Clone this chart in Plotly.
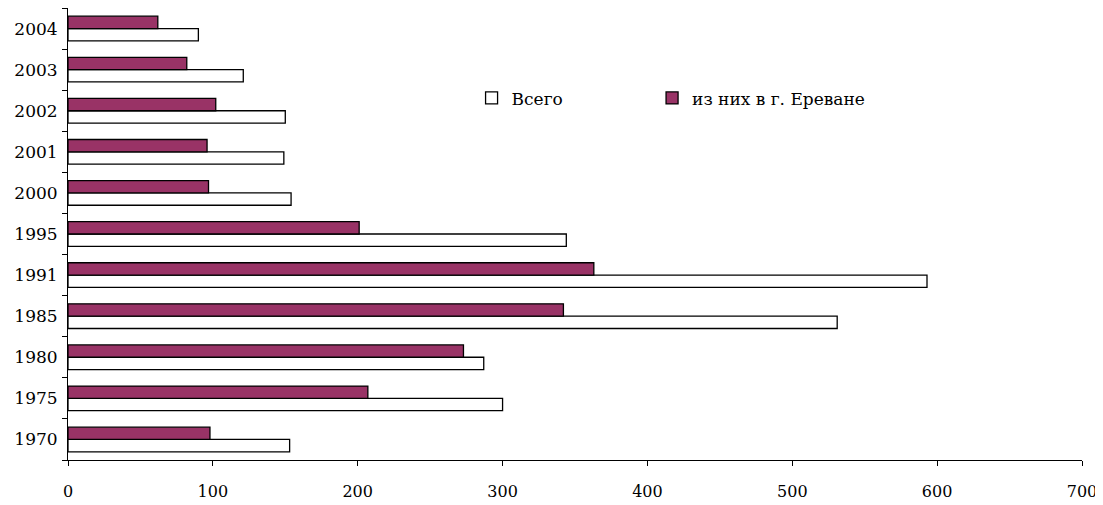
import plotly.graph_objects as go

years = ["1970", "1975", "1980", "1985", "1991", "1995", "2000", "2001", "2002", "2003", "2004"]
total = [153, 300, 287, 531, 593, 344, 154, 149, 150, 121, 90]
yerevan = [98, 207, 273, 342, 363, 201, 97, 96, 102, 82, 62]

font_family = "DejaVu Serif"

fig = go.Figure()
fig.add_trace(go.Bar(
    y=years, x=total, orientation="h", name="Всего",
    marker=dict(color="white", line=dict(color="black", width=1.3)),
    legend="legend",
))
fig.add_trace(go.Bar(
    y=years, x=yerevan, orientation="h", name="из них в г. Ереване",
    marker=dict(color="#993366", line=dict(color="black", width=1.3)),
    legend="legend2",
))

legend_common = dict(
    orientation="h", yanchor="middle", xanchor="left", itemwidth=30,
    font=dict(family=font_family, size=17), bgcolor="rgba(0,0,0,0)",
)

fig.update_layout(
    width=1095, height=497,
    margin=dict(l=60, r=21, t=0, b=45),
    paper_bgcolor="white", plot_bgcolor="white",
    barmode="group", bargap=0.4, bargroupgap=0,
    font=dict(family=font_family, size=16, color="black"),
    showlegend=True,
    legend=dict(x=0.398, y=0.80, **legend_common),
    legend2=dict(x=0.576, y=0.80, **legend_common),
    xaxis=dict(
        range=[0, 700], dtick=100, tick0=0, showgrid=False, zeroline=False,
        showline=True, linecolor="black", linewidth=1,
        ticks="outside", ticklen=5, tickcolor="black", tickwidth=1,
        ticklabelstandoff=12, automargin=False,
        tickfont=dict(family=font_family, size=16),
    ),
    yaxis=dict(
        type="category", categoryorder="array", categoryarray=years,
        showgrid=False, zeroline=False,
        showline=True, linecolor="black", linewidth=1,
        ticks="outside", ticklen=5, tickcolor="black", tickwidth=1,
        tickson="boundaries", automargin=False, ticklabelstandoff=6,
        tickfont=dict(family=font_family, size=17),
    ),
)

fig.write_html("out.html")
